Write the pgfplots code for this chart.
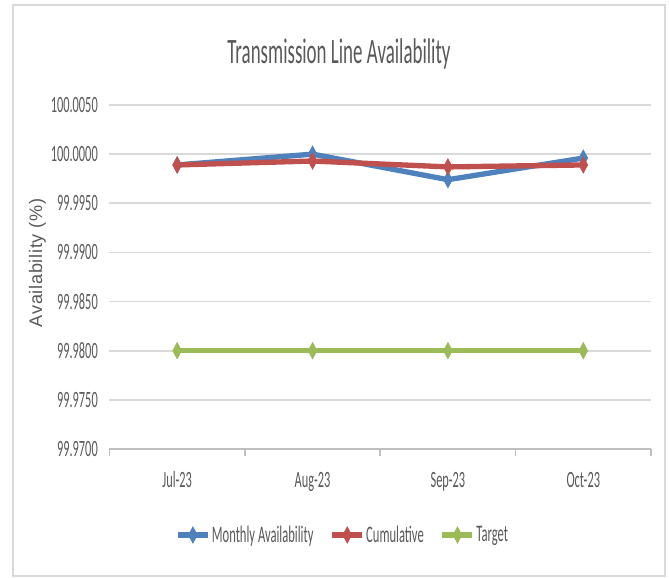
\documentclass[border=0pt]{standalone}
\usepackage{fontspec}
\setmainfont[FakeStretch=0.53]{Carlito}
\newfontfamily\labelfont[LetterSpace=4]{Liberation Sans}
\usepackage{pgfplots}
\pgfplotsset{compat=1.18}
\definecolor{mblue}{HTML}{4F81BD}
\definecolor{cred}{HTML}{C0504D}
\definecolor{tgreen}{HTML}{9BBB59}
\definecolor{txtgray}{HTML}{595959}
\definecolor{gridgray}{HTML}{D9D9D9}
\definecolor{axgray}{HTML}{BFBFBF}

\begin{document}
\begin{tikzpicture}
\useasboundingbox (0,0) rectangle (501.75pt,433.5pt);
\draw[gridgray, line width=1.5pt] (9.75pt,1.5pt) rectangle (498.75pt,429.75pt);
\node[anchor=base, font=\fontsize{26.8}{30}\selectfont, text=txtgray, inner sep=0pt]
  at (254.25pt,385.5pt) {Transmission Line Availability};
\begin{axis}[
  scale only axis,
  width=406.125pt, height=258pt,
  at={(82.125pt,96.75pt)}, anchor=south west,
  xmin=-0.5, xmax=3.5,
  ymin=99.97, ymax=100.005,
  scaled y ticks=false,
  ytick={99.97,99.975,99.98,99.985,99.99,99.995,100,100.005},
  yticklabels={99.9700,99.9750,99.9800,99.9850,99.9900,99.9950,100.0000,100.0050},
  xtick={0,1,2,3},
  xticklabels={Jul-23,Aug-23,Sep-23,Oct-23},
  extra x ticks={-0.5,0.5,1.5,2.5,3.5},
  extra x tick labels={},
  extra x tick style={major tick length=5pt, tick style={axgray, line width=1.2pt}},
  tick align=outside,
  major tick length=0pt,
  axis lines*=left,
  x axis line style={axgray, line width=1.2pt},
  y axis line style={draw=none},
  ymajorgrids,
  major grid style={gridgray, line width=1.2pt},
  ticklabel style={font=\fontsize{17.5}{20}\selectfont, text=txtgray},
  xticklabel style={anchor=base, yshift=-29.25pt},
  yticklabel style={anchor=east, inner sep=0pt, xshift=-8.6pt},
  ylabel={Availability (\%)},
  ylabel style={at={(axis description cs:-0.1330,0.541)}, anchor=center,
    font=\labelfont\fontsize{13.6}{16}\selectfont, text=txtgray},
  legend columns=3,
  legend cell align=left,
  legend style={draw=none, fill=none, at={(axis description cs:0.4300,-0.25)}, anchor=center,
    font=\fontsize{17.8}{20}\selectfont, text=txtgray,
    nodes={inner sep=1pt},
    /tikz/every even column/.append style={column sep=11pt}},
  legend image code/.code={\draw[mark repeat=2,mark phase=2,#1] plot coordinates {(0pt,0pt)(11.25pt,0pt)(22.5pt,0pt)};},
  every axis plot/.append style={line width=4pt, mark=diamond*, mark size=6pt,
    mark options={xscale=0.72, line width=0.6pt}},
]
\addplot[mblue] coordinates {(0,99.9989)(1,100.0000)(2,99.9974)(3,99.9996)};
\addlegendentry{Monthly Availability}
\addplot[cred] coordinates {(0,99.9989)(1,99.9993)(2,99.9987)(3,99.9989)};
\addlegendentry{Cumulative}
\addplot[tgreen] coordinates {(0,99.98)(1,99.98)(2,99.98)(3,99.98)};
\addlegendentry{Target}
\end{axis}
\end{tikzpicture}
\end{document}
